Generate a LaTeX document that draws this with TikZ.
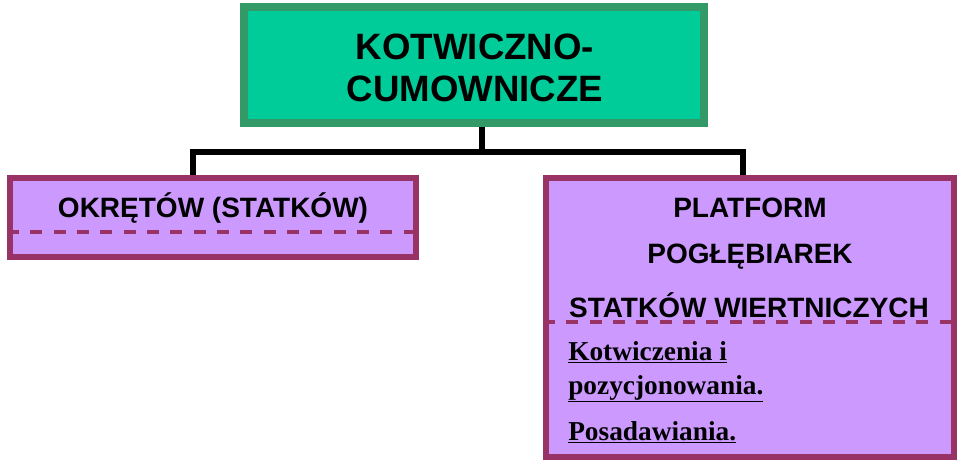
\documentclass[tikz,border=0pt]{standalone}
\usepackage{fontspec}
\setmainfont{Liberation Serif}
\setsansfont{Liberation Sans}
\usetikzlibrary{positioning}
\definecolor{teal1}{HTML}{00CC99}
\definecolor{teal2}{HTML}{339966}
\definecolor{lila1}{HTML}{CC99FF}
\definecolor{lila2}{HTML}{993366}
\begin{document}
\begin{tikzpicture}[x=0.75pt,y=-0.75pt,
  topbox/.style={draw=teal2,fill=teal1,line width=6pt,minimum width=345pt,minimum height=87pt,inner sep=0pt},
  subbox/.style={draw=lila2,fill=lila1,line width=4.5pt,inner sep=0pt},
  conn/.style={line width=4pt},
  sep/.style={draw=lila2,line width=3pt,dash pattern=on 9pt off 8.5pt},
  head/.style={font=\sffamily\bfseries\fontsize{21}{24}\selectfont},
  note/.style={font=\rmfamily\bfseries\fontsize{20.5}{24}\selectfont,anchor=base west,inner sep=0pt}]
\useasboundingbox (0,0) rectangle (960,463);
% boxes
\node[topbox] (top) at (474,65) {};
\node[subbox,minimum width=304.5pt,minimum height=59.25pt] (ships) at (213,217.5) {};
\node[subbox,minimum width=306pt,minimum height=209.25pt] (plat) at (750,317.5) {};
% dashed separators
\draw[sep] (ships.west |- 0,232) -- (ships.east |- 0,232);
\draw[sep] (plat.west |- 0,322) -- (plat.east |- 0,322);
% texts
\node[font=\sffamily\bfseries\fontsize{27.5}{31}\selectfont,align=center] (title) at (475,68) {KOTWICZNO-\\CUMOWNICZE};
\node[head] (t1) at (213,208) {OKRĘTÓW (STATKÓW)};
\node[head] (p1) at (750,208) {PLATFORM};
\node[head] (p2) at (750,257) {POGŁĘBIAREK};
\node[head] (p3) at (749,305) {STATKÓW WIERTNICZYCH};
\node[note] (n1) at (568,360) {\underline{Kotwiczenia i}};
\node[note] (n2) at (568,394) {\underline{pozycjonowania.}};
\node[note] (n3) at (568,440) {\underline{Posadawiania.}};
% connectors
\coordinate (barL) at (193,152);
\coordinate (barR) at (743,152);
\draw[conn] (top.south -| 482,0) -- (barL -| 482,0);
\draw[conn] (barL |- ships.north) -- (barL) -- (barR) -- (barR |- plat.north);
\end{tikzpicture}
\end{document}
